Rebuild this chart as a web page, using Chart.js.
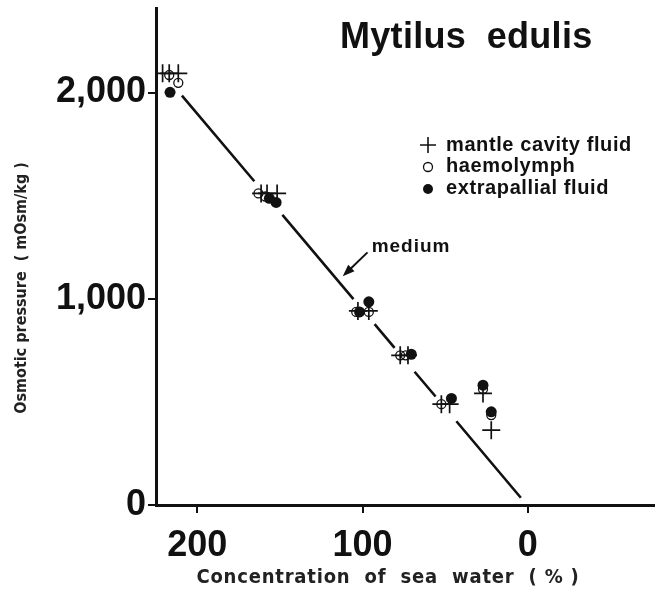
<!DOCTYPE html>
<html>
<head>
<meta charset="utf-8">
<script src="https://cdn.jsdelivr.net/npm/chart.js@4.4.0/dist/chart.umd.min.js"></script>
<style>
  html, body { margin: 0; padding: 0; background: #fff; }
  #wrap { width: 655px; height: 594px; }
</style>
</head>
<body>
<div id="wrap"><canvas id="osmoChart" width="655" height="594"></canvas></div>
<script>
// Mytilus edulis - osmotic pressure of body fluids vs. sea water concentration

// concentration of sea water (%) / osmotic pressure (mOsm/kg)
const mantleX = [221, 217, 211.5, 161.4, 157.8, 151.7, 102.8, 96.2, 77.2, 72.5, 52.3, 47.3, 27.1, 22.1];
const mantleY = [2093, 2093, 2093, 1511, 1511, 1511, 941, 941, 726, 726, 489, 489, 541, 363];

const haemoX = [217, 211.5, 163, 158.8, 103.8, 96.2, 77.2, 73.9, 52.3, 27.1, 22.1];
const haemoY = [2085, 2047, 1511, 1496, 936, 936, 726, 726, 489, 562, 436];

const extraX = [216.5, 156.4, 152.3, 101.8, 96.2, 70.5, 46.2, 27.1, 22.1];
const extraY = [2001, 1487, 1467, 936, 985, 731, 517, 581, 452];

// medium line, broken (null) where the sample clusters sit
const mediumX = [209.3, 165.5, null, 148.5, 105.5, null, 92.7, 80.6, null, 68.5, 55.8, null, 43.2, 4.2];
const mediumY = [1985, 1570, null, 1407, 998, null, 877, 762, null, 646, 526, null, 406, 35];

const xTicks = [200, 100, 0];
const yTicks = [0, 1000, 2000];

const INK = '#111';
const FONT = "'Liberation Sans', Arial, sans-serif";
const NARROW = "'DejaVu Sans Condensed', 'Liberation Sans', sans-serif";

function toPoints(xs, ys) {
    return xs.map((x, i) => ({ x: x, y: ys[i] }));
}

// titles, legend and the "medium" pointer
const decorPlugin = {
    id: 'decor',
    afterDraw(chart) {
        const ctx = chart.ctx;
        const xs = chart.scales.x;
        const ys = chart.scales.y;
        ctx.save();
        ctx.fillStyle = INK;
        ctx.strokeStyle = INK;

        // title
        ctx.font = `bold 36px ${FONT}`;
        ctx.textBaseline = 'middle';
        ctx.textAlign = 'left';
        ctx.letterSpacing = '0.3px';
        ctx.fillText('Mytilus  edulis', 340, 38);

        // legend
        ctx.font = `bold 20px ${FONT}`;
        ctx.letterSpacing = '0.6px';
        ctx.lineWidth = 1.6;
        ctx.beginPath();
        ctx.moveTo(420, 145); ctx.lineTo(436, 145);
        ctx.moveTo(428, 137); ctx.lineTo(428, 153);
        ctx.stroke();
        ctx.lineWidth = 1.3;
        ctx.beginPath();
        ctx.arc(428, 167, 4.5, 0, Math.PI * 2);
        ctx.stroke();
        ctx.beginPath();
        ctx.arc(428, 189, 5, 0, Math.PI * 2);
        ctx.fill();
        ctx.fillText('mantle cavity fluid', 446, 145);
        ctx.fillText('haemolymph', 446, 166);
        ctx.fillText('extrapallial fluid', 446, 188);

        // "medium" label with arrow onto the line
        ctx.font = `bold 19px ${FONT}`;
        ctx.letterSpacing = '1px';
        ctx.fillText('medium', xs.getPixelForValue(94.5), ys.getPixelForValue(1254));
        const tx = xs.getPixelForValue(112), ty = ys.getPixelForValue(1109);
        const fx = xs.getPixelForValue(97), fy = ys.getPixelForValue(1225);
        const ang = Math.atan2(ty - fy, tx - fx);
        ctx.lineWidth = 2;
        ctx.beginPath();
        ctx.moveTo(fx, fy);
        ctx.lineTo(tx - 8 * Math.cos(ang), ty - 8 * Math.sin(ang));
        ctx.stroke();
        ctx.beginPath();
        ctx.moveTo(tx, ty);
        ctx.lineTo(tx - 12 * Math.cos(ang) + 4.5 * Math.sin(ang), ty - 12 * Math.sin(ang) - 4.5 * Math.cos(ang));
        ctx.lineTo(tx - 12 * Math.cos(ang) - 4.5 * Math.sin(ang), ty - 12 * Math.sin(ang) + 4.5 * Math.cos(ang));
        ctx.closePath();
        ctx.fill();

        // axis titles
        ctx.font = `bold 20px ${NARROW}`;
        ctx.letterSpacing = '0.8px';
        ctx.textAlign = 'center';
        ctx.fillStyle = '#222';
        ctx.fillText('Concentration  of  sea  water  ( % )', 388, 578);
        ctx.translate(22, 288);
        ctx.rotate(-Math.PI / 2);
        ctx.font = `bold 16px ${NARROW}`;
        ctx.letterSpacing = '0px';
        ctx.fillText('Osmotic pressure  ( mOsm/kg )', 0, 0);
        ctx.restore();
    }
};

new Chart(document.getElementById('osmoChart'), {
    type: 'scatter',
    data: {
        datasets: [
            {
                label: 'mantle cavity fluid',
                data: toPoints(mantleX, mantleY),
                pointStyle: 'cross',
                pointRadius: 9,
                pointBorderWidth: 1.7,
                borderColor: INK,
                order: 1
            },
            {
                label: 'haemolymph',
                data: toPoints(haemoX, haemoY),
                pointStyle: 'circle',
                pointRadius: 4.5,
                pointBorderWidth: 1.3,
                borderColor: INK,
                backgroundColor: 'rgba(255,255,255,0)',
                order: 2
            },
            {
                label: 'extrapallial fluid',
                data: toPoints(extraX, extraY),
                pointStyle: 'circle',
                pointRadius: 5.5,
                pointBorderWidth: 0,
                borderColor: INK,
                backgroundColor: INK,
                order: 0
            },
            {
                label: 'medium',
                data: toPoints(mediumX, mediumY),
                showLine: true,
                spanGaps: false,
                pointRadius: 0,
                borderColor: INK,
                borderWidth: 2.6,
                order: 3
            }
        ]
    },
    options: {
        responsive: false,
        animation: false,
        layout: { autoPadding: false, padding: { top: 8, right: 0, left: 0, bottom: 0 } },
        plugins: {
            legend: { display: false },
            tooltip: { enabled: false }
        },
        scales: {
            x: {
                type: 'linear',
                reverse: true,
                min: -77,
                max: 225,
                afterBuildTicks: s => { s.ticks = xTicks.map(v => ({ value: v })); },
                afterFit: s => {
                    s.height = 89;
                    s.paddingLeft = 0;
                    s.paddingRight = 0;
                },
                border: { display: true, color: INK, width: 3 },
                grid: { drawOnChartArea: false, drawTicks: true, tickLength: 8, color: INK, lineWidth: 2 },
                ticks: {
                    color: INK,
                    font: { family: FONT, size: 36, weight: 'bold' },
                    padding: 11,
                    maxRotation: 0,
                    autoSkip: false
                }
            },
            y: {
                type: 'linear',
                min: 0,
                max: 2410,
                afterBuildTicks: s => { s.ticks = yTicks.map(v => ({ value: v })); },
                afterFit: s => {
                    s.width = 156;
                    s.paddingTop = 0;
                    s.paddingBottom = 0;
                },
                border: { display: true, color: INK, width: 3 },
                grid: { drawOnChartArea: false, drawTicks: true, tickLength: 8, color: INK, lineWidth: 2 },
                ticks: {
                    color: INK,
                    font: { family: FONT, size: 36, weight: 'bold' },
                    padding: 2,
                    autoSkip: false,
                    callback: v => v.toLocaleString('en-US')
                }
            }
        }
    },
    plugins: [decorPlugin]
});
</script>
</body>
</html>
